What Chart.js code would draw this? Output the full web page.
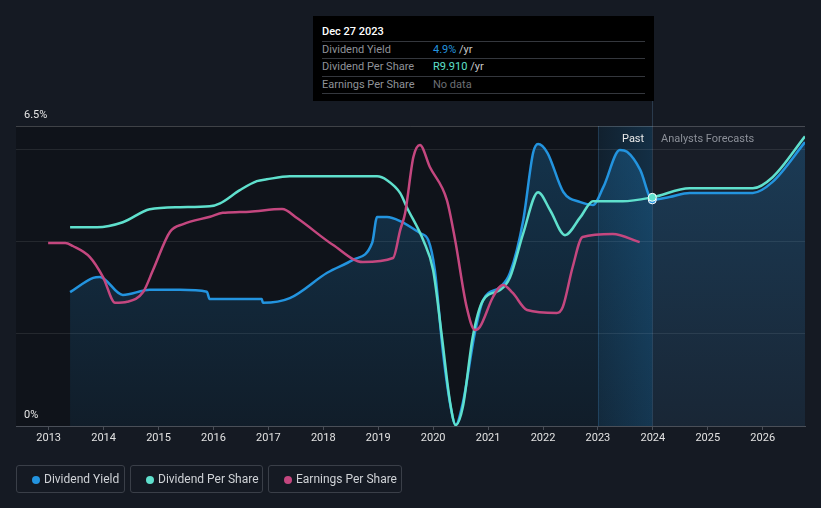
<!DOCTYPE html>
<html>
<head>
<meta charset="utf-8">
<script src="https://cdn.jsdelivr.net/npm/chart.js@4"></script>
<style>
  html,body{margin:0;padding:0;}
  body{background:#151a23;width:821px;height:508px;overflow:hidden;position:relative;font-family:Roboto,"Open Sans",sans-serif;}
  #c{position:absolute;left:0;top:0;}
  .tt{position:absolute;left:313px;top:16px;width:341px;height:85px;background:#000;}
  .tt .row{position:absolute;left:9px;width:323px;font-size:11px;line-height:17px;}
  .tt .sep{position:absolute;left:9px;width:323px;height:1px;background:#34373d;}
  .tt .lab{color:#8f9298;position:absolute;left:0;}
  .tt .val{position:absolute;left:111px;color:#c8c8c8;}
  .legend{position:absolute;top:465px;height:28px;border:1px solid #3a3f48;border-radius:3px;box-sizing:border-box;font-size:12px;color:#cfd2d6;line-height:26px;}
  .legend .dot{position:absolute;top:10px;width:8px;height:8px;border-radius:50%;}
  .legend span.t{position:absolute;}
  .lbl{position:absolute;font-size:11px;line-height:13px;white-space:nowrap;}
</style>
</head>
<body>
<canvas id="c" width="821" height="508"></canvas>

<div class="tt">
  <div class="row" style="top:7px;color:#fff;font-weight:500;">Dec 27 2023</div>
  <div class="sep" style="top:25px"></div>
  <div class="row" style="top:25px"><span class="lab">Dividend Yield</span><span class="val"><span style="color:#2394df">4.9%</span> /yr</span></div>
  <div class="sep" style="top:42px"></div>
  <div class="row" style="top:42px"><span class="lab">Dividend Per Share</span><span class="val"><span style="color:#5fe0cd">R9.910</span> /yr</span></div>
  <div class="sep" style="top:60px"></div>
  <div class="row" style="top:60px"><span class="lab">Earnings Per Share</span><span class="val" style="color:#6c6f75">No data</span></div>
  <div class="sep" style="top:77px"></div>
</div>

<div class="lbl" style="left:24px;top:108px;color:#e6e6e6">6.5%</div>
<div class="lbl" style="left:24px;top:408px;color:#e6e6e6">0%</div>
<div class="lbl" style="left:622px;top:132px;color:#eaeaea">Past</div>
<div class="lbl" style="left:661px;top:132px;color:#8c9099">Analysts Forecasts</div>

<div class="legend" style="left:16px;width:109px"><div class="dot" style="left:15px;background:#2394df"></div><span class="t" style="left:27px">Dividend Yield</span></div>
<div class="legend" style="left:130px;width:133px"><div class="dot" style="left:15px;background:#5fe0cd"></div><span class="t" style="left:27px">Dividend Per Share</span></div>
<div class="legend" style="left:268px;width:134px"><div class="dot" style="left:15px;background:#c4477f"></div><span class="t" style="left:27px">Earnings Per Share</span></div>

<script>
// ---- data ----
const xTickYears = [2013,2014,2015,2016,2017,2018,2019,2020,2021,2022,2023,2024,2025,2026];
const yTickValues = [0,2,4,6,6.5];

const yieldYears  = [2013.39,2013.81,2013.93,2014.35,2014.84,2015.39,2015.88,2015.93,2016.48,2016.88,2016.90,2017.39,2018.07,2018.54,2018.89,2018.98,2019.16,2019.40,2019.76,2019.91,2020.03,2020.18,2020.34,2020.41,2020.54,2020.76,2020.91,2021.22,2021.40,2021.64,2021.82,2021.91,2022.08,2022.37,2022.68,2022.91,2023.10,2023.40,2023.53,2023.77,2023.99,2024.30,2024.67,2025.82,2026.18,2026.77];
const yieldValues = [2.90,3.21,3.23,2.84,2.95,2.95,2.91,2.75,2.75,2.75,2.67,2.77,3.32,3.60,3.97,4.53,4.53,4.44,4.18,4.03,3.38,1.58,0.28,0.02,0.50,2.02,2.73,3.01,3.32,4.46,5.92,6.11,5.92,5.07,4.85,4.79,5.18,5.98,5.94,5.55,4.90,4.96,5.05,5.05,5.29,6.15];

const dpsYears  = [2013.39,2013.88,2014.35,2014.84,2015.39,2015.93,2016.12,2016.48,2016.79,2016.97,2017.39,2018.98,2019.16,2019.40,2019.52,2019.82,2020.00,2020.16,2020.31,2020.41,2020.54,2020.72,2020.91,2021.22,2021.40,2021.64,2021.91,2022.13,2022.40,2022.68,2022.91,2023.45,2023.99,2024.67,2025.82,2026.18,2026.77];
const dpsValues = [8.61,8.61,8.83,9.39,9.48,9.52,9.65,10.22,10.61,10.69,10.82,10.82,10.65,10.09,9.48,8.05,6.75,3.85,1.00,0.04,0.82,3.85,5.45,5.89,6.45,8.35,10.13,9.35,8.27,9.05,9.74,9.74,9.91,10.30,10.30,10.78,12.55];

const epsYears  = [2012.99,2013.30,2013.44,2013.75,2013.99,2014.21,2014.43,2014.72,2014.90,2015.21,2015.45,2015.94,2016.17,2016.48,2016.66,2017.25,2017.52,2018.18,2018.72,2019.27,2019.40,2019.49,2019.64,2019.76,2019.94,2020.25,2020.40,2020.61,2020.76,2020.85,2021.09,2021.27,2021.45,2021.71,2022.25,2022.36,2022.54,2022.72,2023.27,2023.76];
const epsValues = [15.86,15.86,15.60,14.64,12.91,10.68,10.77,11.61,13.52,16.84,17.50,18.14,18.48,18.54,18.57,18.80,18.02,15.68,14.21,14.56,16.98,18.46,23.31,24.35,22.44,19.58,16.12,10.31,8.32,8.58,11.18,12.22,11.53,10.05,9.79,10.31,13.78,16.38,16.64,15.94];

const pastEnd = 2023.99;
const pastBandStart = 2023;

const zip = (xs, ys) => xs.map((x, i) => ({x, y: ys[i]}));

const C_YIELD = '#2394df', C_DPS = '#5fe0cd', C_EPS = '#c4477f';

const bgPlugin = {
  id: 'bg',
  beforeDraw(chart) {
    const {ctx, chartArea: ca, scales} = chart;
    const xs = scales.x;
    const xEnd = xs.getPixelForValue(pastEnd);
    const xBand = xs.getPixelForValue(pastBandStart);
    ctx.save();
    ctx.fillStyle = '#151a23';
    ctx.fillRect(0, 0, chart.width, chart.height);
    ctx.fillStyle = '#0f131a';
    ctx.fillRect(ca.left, ca.top, xEnd - ca.left, ca.bottom - ca.top);
    ctx.fillStyle = '#181d27';
    ctx.fillRect(xEnd, ca.top, ca.right - xEnd, ca.bottom - ca.top);
    const g = ctx.createLinearGradient(xBand, 0, xEnd, 0);
    g.addColorStop(0, 'rgba(35,148,224,0.10)');
    g.addColorStop(1, 'rgba(35,148,224,0.22)');
    ctx.fillStyle = g;
    ctx.fillRect(xBand, ca.top, xEnd - xBand, ca.bottom - ca.top);
    ctx.strokeStyle = 'rgba(60,110,150,0.35)';
    ctx.lineWidth = 1;
    ctx.beginPath(); ctx.moveTo(Math.round(xBand)+0.5, ca.top); ctx.lineTo(Math.round(xBand)+0.5, ca.bottom); ctx.stroke();
    ctx.strokeStyle = '#2a3a4c';
    ctx.beginPath(); ctx.moveTo(Math.round(xEnd)+0.5, 101); ctx.lineTo(Math.round(xEnd)+0.5, ca.bottom); ctx.stroke();
    ctx.restore();
  }
};

new Chart(document.getElementById('c'), {
  type: 'line',
  data: {
    datasets: [
      {
        label: 'Earnings Per Share', data: zip(epsYears, epsValues), yAxisID: 'yEps',
        borderColor: C_EPS, borderWidth: 2.5, pointRadius: 0, fill: false, order: 1,
        cubicInterpolationMode: 'monotone'
      },
      {
        label: 'Dividend Per Share', data: zip(dpsYears, dpsValues), yAxisID: 'yDps',
        borderColor: C_DPS, borderWidth: 2.5, fill: false, order: 2,
        cubicInterpolationMode: 'monotone',
        pointRadius: c => (c.raw && c.raw.x === pastEnd) ? 4 : 0,
        pointBackgroundColor: C_DPS, pointBorderColor: '#ffffff', pointBorderWidth: 1
      },
      {
        label: 'Dividend Yield', data: zip(yieldYears, yieldValues), yAxisID: 'y',
        borderColor: C_YIELD, borderWidth: 2.5, order: 3,
        cubicInterpolationMode: 'monotone',
        pointRadius: c => (c.raw && c.raw.x === pastEnd) ? 4 : 0,
        pointBackgroundColor: C_YIELD, pointBorderColor: '#ffffff', pointBorderWidth: 1,
        fill: 'origin',
        backgroundColor: (c) => {
          const ca = c.chart.chartArea;
          if (!ca) return 'rgba(35,148,224,0.15)';
          const g = c.chart.ctx.createLinearGradient(0, ca.top, 0, ca.bottom);
          g.addColorStop(0, 'rgba(35,148,224,0.26)');
          g.addColorStop(1, 'rgba(35,148,224,0.08)');
          return g;
        }
      }
    ]
  },
  options: {
    responsive: false,
    animation: false,
    events: [],
    layout: { padding: { left: 16, right: 16, top: 126, bottom: 62 } },
    plugins: { legend: { display: false }, tooltip: { enabled: false } },
    scales: {
      x: {
        type: 'linear', min: 2012.405, max: 2026.77,
        afterBuildTicks: s => { s.ticks = xTickYears.map(v => ({value: v})); },
        afterFit: s => { s.height = 20; },
        ticks: { color: '#e2e2e2', font: { family: 'Roboto', size: 11 }, padding: 2, maxRotation: 0, callback: v => String(v) },
        grid: { drawOnChartArea: false, drawTicks: true, tickLength: 4, color: '#4a4f58' },
        border: { display: true, color: '#4a4f58', width: 1 }
      },
      y: {
        min: 0, max: 6.5,
        afterBuildTicks: s => { s.ticks = yTickValues.map(v => ({value: v})); },
        afterFit: s => { s.width = 0; },
        ticks: { display: false },
        grid: {
          drawTicks: false,
          color: c => (c.tick && c.tick.value === 6.5) ? 'rgba(255,255,255,0.2)' : (c.tick && c.tick.value === 0 ? 'rgba(0,0,0,0)' : 'rgba(255,255,255,0.09)')
        },
        border: { display: false }
      },
      yDps: { display: false, min: 0, max: 13 },
      yEps: { display: false, min: 0, max: 26 }
    }
  },
  plugins: [bgPlugin]
});
</script>
</body>
</html>
